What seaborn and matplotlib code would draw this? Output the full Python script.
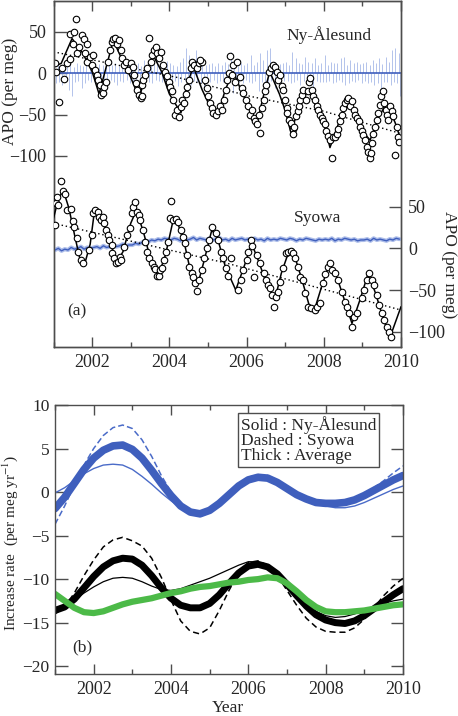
import numpy as np
import seaborn as sns
import matplotlib.pyplot as plt
from matplotlib.ticker import MultipleLocator

# ---------------- panel (a): APO records ----------------
# Ny-Alesund flask samples (year, per meg) -> left axis
ny_pts = [
    (2001.04, 13), (2001.06, 2), (2001.15, -35), (2001.21, 6), (2001.27, -7), (2001.34, 12),
    (2001.43, 17), (2001.43, 48), (2001.51, 36), (2001.53, 50), (2001.57, 66), (2001.62, 24),
    (2001.67, 32), (2001.75, 46), (2001.79, 42), (2001.82, 24), (2001.86, 36), (2001.88, 14),
    (2001.95, 20), (2001.99, 10), (2002.03, 22), (2002.08, 4), (2002.12, -2), (2002.16, -8),
    (2002.20, -14), (2002.22, -26), (2002.27, -24), (2002.32, -17), (2002.36, -10),
    (2002.42, 14), (2002.46, 28), (2002.51, 38), (2002.55, 41), (2002.59, 43), (2002.64, 36),
    (2002.70, 40), (2002.74, 28), (2002.77, 18), (2002.83, 10), (2002.88, 14), (2002.94, 4),
    (2003.00, 12), (2003.05, 8), (2003.09, -2), (2003.14, -12), (2003.17, -20), (2003.22, -26),
    (2003.26, -30), (2003.30, -28), (2003.28, -14), (2003.33, -8), (2003.38, -2), (2003.41, 6),
    (2003.48, 43), (2003.52, 14), (2003.55, 22), (2003.60, 28), (2003.66, 32), (2003.69, 24),
    (2003.74, 18), (2003.79, 26), (2003.83, 10), (2003.88, 2), (2003.93, -3), (2003.98, -10),
    (2004.02, -17), (2004.06, -22), (2004.10, -32), (2004.15, -50), (2004.21, -44), (2004.24, -53),
    (2004.29, -41), (2004.33, -32), (2004.38, -36), (2004.42, -25), (2004.47, -17), (2004.51, -8),
    (2004.55, 6), (2004.59, 14), (2004.64, 10), (2004.71, 6), (2004.77, 12), (2004.84, 14),
    (2004.79, 16), (2004.93, -8), (2004.97, -18), (2005.01, -28), (2005.05, -36), (2005.10, -42),
    (2005.14, -48), (2005.20, -50), (2005.25, -46), (2005.31, -40), (2005.37, -44), (2005.42, -32),
    (2005.46, -20), (2005.50, -8), (2005.55, 0),
    (2005.57, 21), (2005.62, -2), (2005.66, 10), (2005.70, -10), (2005.74, 14), (2005.83, -4),
    (2005.87, -18), (2005.92, -24), (2005.99, -32), (2006.05, -40), (2006.08, -50), (2006.13, -44),
    (2006.18, -54), (2006.22, -58), (2006.26, -62), (2006.31, -50), (2006.35, -72), (2006.39, -42),
    (2006.44, -32), (2006.48, -22), (2006.51, -14), (2006.57, 2), (2006.63, 6), (2006.69, 10),
    (2006.74, 8), (2006.78, 2), (2006.82, -8), (2006.87, -2), (2006.91, -16), (2006.95, -20),
    (2007.00, -32), (2007.04, -42), (2007.06, -48), (2007.11, -56), (2007.14, -60), (2007.19, -67),
    (2007.21, -73), (2007.24, -65), (2007.28, -52), (2007.32, -46), (2007.36, -40), (2007.39, -32),
    (2007.43, -26), (2007.47, -20), (2007.55, -32), (2007.60, -22), (2007.63, -10), (2007.65, -6),
    (2007.69, -20), (2007.73, -28), (2007.78, -32), (2007.82, -40), (2007.86, -44), (2007.90, -50),
    (2007.95, -54), (2007.99, -58),
    (2008.03, -62), (2008.07, -70), (2008.12, -76), (2008.16, -81), (2008.21, -103), (2008.23, -77),
    (2008.29, -77), (2008.33, -73), (2008.38, -67), (2008.42, -58), (2008.46, -50), (2008.51, -42),
    (2008.56, -36), (2008.60, -32), (2008.64, -30), (2008.68, -40), (2008.72, -34), (2008.77, -44),
    (2008.81, -50), (2008.85, -54), (2008.90, -58), (2008.94, -65), (2008.98, -70),
    (2009.02, -75), (2009.07, -81), (2009.11, -89), (2009.15, -95), (2009.20, -103), (2009.23, -97),
    (2009.26, -85), (2009.28, -73), (2009.32, -65), (2009.37, -56), (2009.41, -48), (2009.46, -38),
    (2009.48, -28), (2009.53, -22), (2009.56, -36), (2009.61, -44), (2009.63, -50), (2009.67, -56),
    (2009.72, -40), (2009.76, -46), (2009.80, -52), (2009.85, -99), (2009.89, -65), (2009.93, -77),
    (2009.96, -83),
]

# Syowa flask samples (year, per meg) -> right axis
sy_pts = [
    (2001.04, 28), (2001.06, 54), (2001.10, 62), (2001.12, 52), (2001.19, 81), (2001.24, 69),
    (2001.30, 65), (2001.36, 46), (2001.45, 47), (2001.50, 33), (2001.53, 26), (2001.60, 12),
    (2001.64, -4), (2001.70, -14), (2001.76, -18), (2001.93, -2), (2001.99, 16), (2002.03, 42),
    (2002.07, 46), (2002.14, 44), (2002.19, 38), (2002.22, 34), (2002.27, 38), (2002.31, 30),
    (2002.36, 22), (2002.40, 16), (2002.45, 10), (2002.51, 4), (2002.51, -6), (2002.57, -12),
    (2002.62, -18), (2002.68, -16), (2002.72, -10), (2002.76, -14), (2002.83, 2), (2002.91, 16),
    (2002.98, 24), (2003.03, 42), (2003.07, 50), (2003.11, 55), (2003.17, 44), (2003.22, 40),
    (2003.24, 34), (2003.31, 22), (2003.37, 8), (2003.41, -4), (2003.48, -12), (2003.55, -18),
    (2003.59, -22), (2003.64, -25), (2003.68, -33), (2003.72, -33), (2003.76, -26), (2003.82, -24),
    (2003.86, -14), (2003.91, -4), (2003.97, 8), (2004.02, 36), (2004.04, 57), (2004.10, 34),
    (2004.17, 35), (2004.23, 32), (2004.30, 22), (2004.35, 14), (2004.41, 6), (2004.45, -8),
    (2004.52, -22), (2004.58, -30), (2004.62, -34), (2004.67, -42), (2004.71, -51), (2004.77, -38),
    (2004.84, -26), (2004.90, -12), (2004.97, 0), (2005.04, 10), (2005.10, 26), (2005.21, 18),
    (2005.27, 10), (2005.33, -4), (2005.40, -12), (2005.46, -24), (2005.53, -33),
    (2005.61, -12), (2005.77, -50), (2005.86, -38), (2005.92, -26), (2006.00, -14), (2006.03, -4),
    (2006.12, 10), (2006.13, 3), (2006.20, -34), (2006.26, -8), (2006.35, -18), (2006.44, -30),
    (2006.50, -38), (2006.55, -44), (2006.61, -48), (2006.65, -56), (2006.70, -70), (2006.76, -58),
    (2006.81, -52), (2006.87, -40), (2006.95, -24), (2007.01, -6), (2007.08, -4), (2007.15, -3),
    (2007.21, -6), (2007.26, -12), (2007.33, -22), (2007.39, -34), (2007.45, -38), (2007.52, -54),
    (2007.59, -70), (2007.67, -72), (2007.76, -74), (2007.82, -70), (2007.89, -66), (2007.97, -42),
    (2008.03, -31), (2008.10, -22), (2008.16, -17), (2008.22, -26), (2008.29, -30), (2008.38, -38),
    (2008.47, -52), (2008.54, -64), (2008.60, -70), (2008.66, -78), (2008.73, -94), (2008.79, -82),
    (2008.86, -78), (2008.98, -60), (2009.05, -50), (2009.11, -38), (2009.17, -29), (2009.24, -38),
    (2009.30, -44), (2009.37, -56), (2009.43, -68), (2009.50, -78), (2009.57, -86), (2009.63, -94),
    (2009.69, -100), (2009.74, -106),
]

ny_fit_yr = [2001.0, 2001.2, 2001.48, 2001.75, 2002.0, 2002.18, 2002.35, 2002.55, 2002.8, 2003.0,
             2003.22, 2003.4, 2003.58, 2003.8, 2004.0, 2004.3, 2004.45, 2004.62, 2004.85, 2005.05,
             2005.27, 2005.45, 2005.65, 2005.9, 2006.1, 2006.27, 2006.45, 2006.6, 2006.85, 2007.0,
             2007.15, 2007.35, 2007.6, 2007.85, 2008.0, 2008.16, 2008.35, 2008.6, 2008.85, 2009.0,
             2009.2, 2009.4, 2009.63, 2009.85, 2010.0]
ny_fit = [8, 12, 42, 25, 2, -25, 5, 40, 14, -5, -30, 0, 22, 2, -25, -48, -15, 8, -20, -40,
          -48, -20, 2, -25, -45, -60, -25, 2, -25, -45, -72, -42, -20, -45, -60, -90, -65, -32,
          -55, -70, -81, -55, -36, -60, -81]

sy_fit_yr = [2001.0, 2001.12, 2001.25, 2001.4, 2001.55, 2001.7, 2001.8, 2001.95, 2002.07, 2002.25,
             2002.45, 2002.65, 2002.8, 2003.0, 2003.15, 2003.35, 2003.55, 2003.72, 2003.9, 2004.1,
             2004.2, 2004.4, 2004.55, 2004.72, 2004.9, 2005.1, 2005.25, 2005.45, 2005.72, 2005.95,
             2006.13, 2006.3, 2006.5, 2006.73, 2006.9, 2007.1, 2007.25, 2007.45, 2007.62, 2007.77,
             2007.95, 2008.15, 2008.35, 2008.55, 2008.73, 2008.95, 2009.15, 2009.35, 2009.55,
             2009.72, 2010.0]
sy_fit = [36, 58, 70, 48, 15, -16, -20, 5, 48, 36, 8, -16, -4, 30, 46, 16, -20, -32, -8, 34,
          33, 4, -28, -46, -15, 22, 12, -22, -50, -20, 6, -14, -40, -62, -30, -3, -10, -40, -68,
          -72, -45, -18, -36, -64, -90, -60, -30, -55, -86, -106, -70]

ny_trend_yr = [2001.0, 2004.3, 2006.1, 2008.0, 2010.0]
ny_trend = [26, -6, -28, -46, -73]
sy_trend_yr = [2001.0, 2005.5, 2010.0]
sy_trend = [30, -18, -74]

# continuous (blue) records, monthly spread / level
ny_cont_hi = [22, 14, 10, 12, 9, 11, 8, 13, 10, 9, 12, 10,
              12, 9, 11, 10, 8, 14, 10, 12, 9, 16, 11, 10,
              14, 10, 12, 9, 16, 11, 20, 13, 18, 12, 10, 15,
              12, 10, 9, 14, 18, 30, 22, 12, 28, 14, 12, 10,
              11, 13, 9, 12, 10, 14, 11, 26, 12, 9, 13, 10,
              12, 22, 10, 14, 24, 16, 28, 30, 10, 13, 11, 12,
              14, 10, 26, 18, 12, 11, 20, 14, 12, 18, 10, 12,
              22, 10, 14, 12, 12, 18, 20, 10, 16, 12, 14, 11,
              12, 14, 10, 16, 12, 18, 11, 20, 14, 28, 30, 24]
ny_cont_lo = [-12, -10, -14, -8, -20, -28, -10, -9, -18, -12, -8, -10,
              -8, -10, -25, -9, -12, -8, -10, -14, -9, -11, -8, -12,
              -9, -10, -8, -14, -9, -10, -12, -8, -9, -11, -10, -9,
              -12, -9, -16, -10, -8, -10, -14, -9, -10, -12, -18, -9,
              -10, -8, -12, -9, -11, -8, -10, -24, -9, -10, -12, -8,
              -10, -12, -9, -22, -10, -11, -13, -9, -18, -10, -12, -9,
              -9, -12, -10, -8, -14, -9, -10, -12, -20, -9, -11, -10,
              -10, -9, -12, -11, -8, -10, -14, -12, -9, -10, -8, -12,
              -9, -12, -10, -14, -12, -22, -10, -11, -14, -10, -12, -28]
sy_cont = [-2, 0, -3, -1, -2, 1, -1, 0, 2, -1, 1, 0,
           1, 2, 0, 3, 1, 2, 4, 2, 3, 5, 3, 4,
           4, 6, 5, 7, 9, 8, 10, 9, 11, 10, 12, 11,
           10, 12, 11, 9, 12, 10, 11, 13, 10, 12, 11, 10,
           12, 10, 11, 13, 10, 11, 9, 12, 10, 11, 12, 10,
           11, 10, 12, 10, 11, 9, 12, 10, 11, 10, 12, 11,
           10, 12, 11, 9, 11, 10, 12, 11, 10, 9, 11, 10,
           11, 10, 12, 9, 11, 10, 12, 11, 10, 11, 9, 10,
           10, 11, 9, 12, 10, 11, 10, 9, 11, 10, 12, 11]

# ---------------- panel (b): increase rates ----------------
rate_yr = np.arange(2001.0, 2010.01, 0.25)
blue_avg = [-1.9, -0.6, 1.0, 2.6, 3.9, 4.8, 5.3, 5.4, 4.9, 3.9, 2.5, 1.0, -0.4, -1.6, -2.3, -2.5,
            -2.1, -1.3, -0.3, 0.7, 1.4, 1.7, 1.6, 1.1, 0.4, -0.3, -0.8, -1.2, -1.3, -1.3, -1.2,
            -0.9, -0.4, 0.2, 0.8, 1.4, 1.9]
blue_syowa = [-3.7, -1.6, 0.8, 3.1, 5.0, 6.5, 7.4, 7.7, 7.3, 6.0, 4.1, 1.9, 0.0, -1.5, -2.5, -2.8,
              -2.4, -1.5, -0.3, 0.9, 1.7, 2.0, 1.9, 1.3, 0.5, -0.3, -0.9, -1.4, -1.6, -1.6, -1.4,
              -1.0, -0.3, 0.5, 1.3, 2.2, 3.0]
blue_ny = [-0.1, 0.5, 1.3, 2.1, 2.7, 3.1, 3.2, 3.1, 2.6, 1.8, 0.9, -0.1, -1.0, -1.8, -2.2, -2.3,
           -1.9, -1.1, -0.2, 0.6, 1.2, 1.5, 1.4, 0.9, 0.3, -0.4, -0.9, -1.4, -1.6, -1.8, -1.8,
           -1.6, -1.2, -0.7, -0.2, 0.3, 0.7]
black_avg = [-13.6, -13.2, -12.3, -11.0, -9.7, -8.6, -7.9, -7.6, -7.7, -8.4, -9.6, -11.0, -12.2,
             -13.0, -13.3, -13.3, -12.8, -11.8, -10.5, -9.3, -8.5, -8.3, -8.6, -9.4, -10.6,
             -11.9, -13.1, -14.1, -14.7, -15.0, -15.1, -14.8, -14.2, -13.4, -12.6, -11.8, -11.1]
black_syowa = [-14.0, -13.2, -11.6, -9.6, -7.8, -6.3, -5.5, -5.2, -5.6, -6.2, -7.6, -9.8, -12.4,
               -14.8, -16.0, -16.3, -15.6, -13.6, -11.3, -9.3, -8.1, -7.9, -8.4, -9.6, -11.3,
               -13.0, -14.5, -15.5, -16.0, -16.1, -16.1, -15.6, -14.6, -13.3, -11.9, -10.8, -9.9]
black_ny = [-13.3, -13.0, -12.4, -11.6, -10.9, -10.3, -9.9, -9.8, -9.9, -10.3, -10.8, -11.2, -11.3,
            -11.1, -10.7, -10.3, -9.9, -9.4, -8.9, -8.4, -8.0, -8.0, -8.5, -9.4, -10.6, -11.8,
            -12.9, -13.7, -14.2, -14.4, -14.3, -14.0, -13.6, -13.2, -12.8, -12.5, -12.3]
green_avg = [-11.7, -12.5, -13.3, -13.8, -13.9, -13.7, -13.3, -12.9, -12.6, -12.4, -12.2, -11.9,
             -11.6, -11.4, -11.1, -10.9, -10.8, -10.6, -10.4, -10.3, -10.1, -10.0, -9.8, -9.9,
             -10.5, -11.4, -12.4, -13.2, -13.7, -13.8, -13.8, -13.7, -13.6, -13.4, -13.2, -13.0,
             -12.9]

# ---------------- styling ----------------
sns.set_theme(style="ticks")
plt.rcParams['font.family'] = ['Liberation Serif', 'DejaVu Serif']
plt.rcParams['mathtext.fontset'] = 'stix'

W, H = 458, 716
frame = '#4d4d4d'
blue = '#3f5fbd'
blue_thin = '#4a6bc8'
blue_dot = '#8aa2e0'
green = '#4cba48'


def fx(x):
    return x / W


def fy(y):
    return 1 - y / H


fig = plt.figure(figsize=(W / 100, H / 100), dpi=100)
fig.patch.set_facecolor('white')
ax_a = fig.add_axes([fx(53.5), fy(347), fx(401) - fx(53.5), fy(1) - fy(347)])
ax_r = ax_a.twinx()
ax_b = fig.add_axes([fx(55), fy(674), fx(403) - fx(55), fy(405) - fy(674)])

months = 2001 + (np.arange(108) + 0.5) / 12

# Ny-Alesund continuous record: upward and downward excursions, half a month apart
ax_a.vlines(months - 1 / 48, 0, ny_cont_hi, color=blue_dot, lw=0.6, alpha=0.75, zorder=1)
ax_a.vlines(months + 1 / 48, ny_cont_lo, 0, color=blue_dot, lw=0.6, alpha=0.75, zorder=1)
ax_a.axhline(0, color=blue, lw=1.2, zorder=2)
sns.lineplot(x=ny_trend_yr, y=ny_trend, ax=ax_a, color='black', lw=1.0, ls=(0, (1, 2)), zorder=3)
sns.lineplot(x=ny_fit_yr, y=ny_fit, ax=ax_a, color='black', lw=1.1, zorder=3)
sns.scatterplot(x=[p[0] for p in ny_pts], y=[p[1] for p in ny_pts], ax=ax_a, s=22,
                color='white', edgecolor='black', linewidth=0.8, zorder=5)

# Syowa
sns.lineplot(x=months, y=sy_cont, ax=ax_r, color=blue_dot, lw=3.0, alpha=0.7, zorder=1)
sns.lineplot(x=months, y=sy_cont, ax=ax_r, color=blue, lw=1.0, zorder=2)
sns.lineplot(x=sy_trend_yr, y=sy_trend, ax=ax_r, color='black', lw=1.0, ls=(0, (1, 2)), zorder=3)
sns.lineplot(x=sy_fit_yr, y=sy_fit, ax=ax_r, color='black', lw=1.1, zorder=3)
sns.scatterplot(x=[p[0] for p in sy_pts], y=[p[1] for p in sy_pts], ax=ax_r, s=22,
                color='white', edgecolor='black', linewidth=0.8, zorder=5)

ax_a.set_ylim(-331.4, 87.5)
ax_r.set_ylim(-118.3, 296.5)
ax_a.set_yticks([50, 0, -50, -100])
ax_r.set_yticks([50, 0, -50, -100])
ax_a.set_ylabel('')
ax_r.set_ylabel('')

# panel (b)
sns.lineplot(x=rate_yr, y=blue_ny, ax=ax_b, color=blue_thin, lw=1.0)
sns.lineplot(x=rate_yr, y=blue_syowa, ax=ax_b, color=blue_thin, lw=1.1, ls=(0, (4, 2)))
sns.lineplot(x=rate_yr, y=blue_avg, ax=ax_b, color=blue, lw=5.5)
sns.lineplot(x=rate_yr, y=black_ny, ax=ax_b, color='black', lw=0.9)
sns.lineplot(x=rate_yr, y=black_syowa, ax=ax_b, color='black', lw=1.1, ls=(0, (4, 2.5)))
sns.lineplot(x=rate_yr, y=black_avg, ax=ax_b, color='black', lw=5.0)
sns.lineplot(x=rate_yr, y=green_avg, ax=ax_b, color=green, lw=4.5)
ax_b.set_ylim(-20.9, 10)
ax_b.set_yticks([10, 5, 0, -5, -10, -15, -20])

for ax in (ax_a, ax_r, ax_b):
    ax.set_xlim(2001, 2010)
    for sp in ax.spines.values():
        sp.set_color(frame)
        sp.set_linewidth(1.0)
        sp.set_visible(True)

for ax in (ax_a, ax_b):
    ax.xaxis.set_major_locator(MultipleLocator(2))
    ax.xaxis.set_minor_locator(MultipleLocator(1))
    ax.tick_params(axis='x', which='major', direction='in', top=True, bottom=True,
                   length=7.5, width=1.0, color=frame, labelsize=13, pad=5)
    ax.tick_params(axis='x', which='minor', direction='in', top=True, bottom=True,
                   length=3.5, width=1.0, color=frame)
    ax.set_xlabel('')

ax_a.tick_params(axis='y', direction='in', left=True, right=False, length=9, width=1.0,
                 color=frame, labelsize=13, pad=5)
ax_r.tick_params(axis='y', direction='in', left=False, right=True, labelright=True,
                 length=9, width=1.0, color=frame, labelsize=13, pad=5)
ax_b.tick_params(axis='y', direction='in', left=True, right=True, length=9, width=1.0,
                 color=frame, labelsize=12.5, pad=4)

# texts
fig.text(fx(10), fy(91.5), 'APO (per meg)', rotation=90, ha='center', va='center', fontsize=12.5)
fig.text(fx(449), fy(264.5), 'APO (per meg)', rotation=270, ha='center', va='center', fontsize=12.5)
fig.text(fx(10.5), fy(543), 'Increase rate  (per meg yr$^{-1}$)', rotation=90,
         ha='center', va='center', fontsize=11)
fig.text(fx(228), fy(708), 'Year', ha='center', va='center', fontsize=12.5)
fig.text(fx(329), fy(35), 'Ny-Ålesund', ha='center', va='center', fontsize=12.5)
fig.text(fx(318), fy(218), 'Syowa', ha='center', va='center', fontsize=12.5)
fig.text(fx(77), fy(311), '(a)', ha='center', va='center', fontsize=12.5)
fig.text(fx(82), fy(647), '(b)', ha='center', va='center', fontsize=12.5)
fig.text(fx(241), fy(440), 'Solid : Ny-Ålesund\nDashed : Syowa\nThick : Average',
         ha='left', va='center', fontsize=12.5, linespacing=0.92,
         bbox=dict(boxstyle='square,pad=0.15', fc='white', ec=frame, lw=1.0))

fig.savefig('out.png', dpi=100, facecolor='white')
